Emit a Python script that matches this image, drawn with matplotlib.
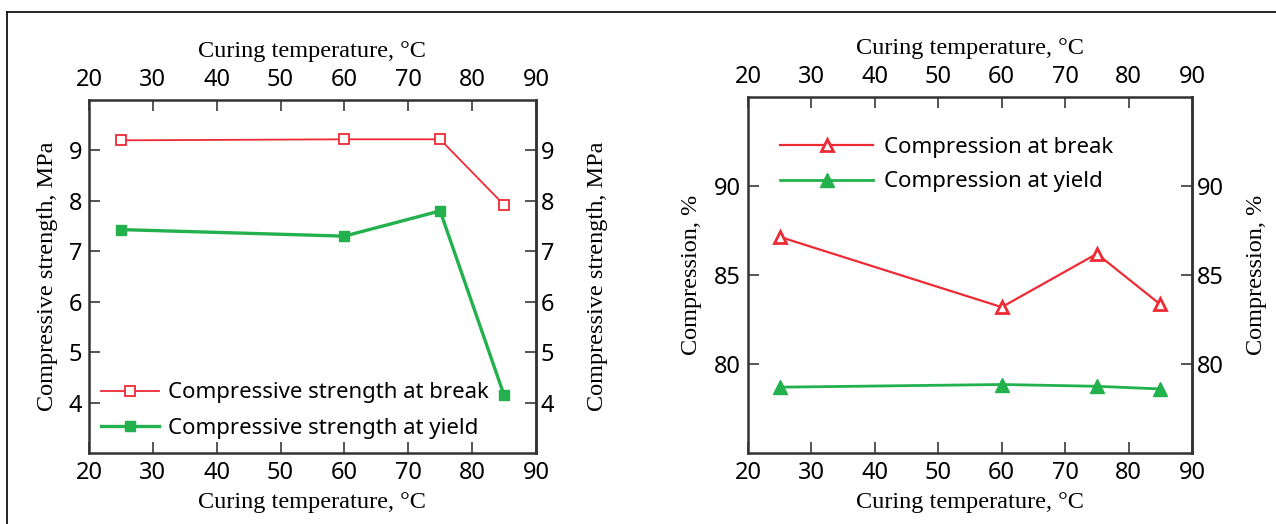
import matplotlib
matplotlib.use("Agg")
import matplotlib.pyplot as plt
from matplotlib.lines import Line2D

# data
temps = [25, 60, 75, 85]
strength_break = [9.2, 9.22, 9.22, 7.92]
strength_yield = [7.43, 7.3, 7.8, 4.15]
compression_break = [87.15, 83.2, 86.2, 83.35]
compression_yield = [78.7, 78.85, 78.75, 78.6]
x_ticks = [20, 30, 40, 50, 60, 70, 80, 90]

RED = "#ee2a35"
GREEN = "#22b14c"
SPINE = "#333333"
TICK_FONT = "Noto Sans"
LABEL_FONT = "Liberation Serif"

plt.rcParams["font.family"] = TICK_FONT

fig = plt.figure(figsize=(12.76, 5.24), dpi=100)


def style_axes(ax, ylim, yticks, ylabel, left_pad, right_pad):
    ax.set_xlim(20, 90)
    ax.set_ylim(*ylim)
    ax.set_xticks(x_ticks)
    ax.set_yticks(yticks)
    for s in ax.spines.values():
        s.set_color(SPINE)
        s.set_linewidth(1.8)
    ax.tick_params(axis="x", direction="in", length=8, width=1.4, color="#555555",
                   top=True, labeltop=False, labelsize=17, pad=6)
    ax.tick_params(axis="y", direction="in", length=8, width=1.4, color="#555555",
                   labelsize=17, pad=5)
    ax.set_xlabel("Curing temperature, °C", family=LABEL_FONT, fontsize=17.5, labelpad=5)
    ax.set_ylabel(ylabel, family=LABEL_FONT, fontsize=17.5, labelpad=left_pad)

    top = ax.secondary_xaxis("top")
    top.set_xticks(x_ticks)
    top.tick_params(direction="in", length=0, labelsize=17, pad=6)
    top.set_xlabel("Curing temperature, °C", family=LABEL_FONT, fontsize=17.5, labelpad=8)
    top.spines["top"].set_visible(False)

    right = ax.secondary_yaxis("right")
    right.set_yticks(yticks)
    right.tick_params(direction="in", length=8, width=1.4, color="#555555",
                      labelsize=17, pad=3.5)
    right.set_ylabel(ylabel, family=LABEL_FONT, fontsize=17.5, labelpad=right_pad)
    right.spines["right"].set_color(SPINE)
    right.spines["right"].set_linewidth(1.8)


# left panel: compressive strength
ax1 = fig.add_axes([0.0697, 0.1355, 0.3503, 0.6737])
ax1.plot(temps, strength_break, color=RED, lw=1.3, marker="s", ms=7,
         mfc="white", mec=RED, mew=1.3, label="Compressive strength at break")
ax1.plot(temps, strength_yield, color=GREEN, lw=2.4, marker="s", ms=7,
         mfc=GREEN, mec=GREEN, label="Compressive strength at yield")
style_axes(ax1, (3, 10), [4, 5, 6, 7, 8, 9], "Compressive strength, MPa", 7.5, 23.5)
ax1.legend(loc="upper left", bbox_to_anchor=(0.027, 0.2), frameon=False,
           fontsize=16, handlelength=2.6, handletextpad=0.4, labelspacing=0.65,
           borderpad=0, borderaxespad=0)

# right panel: compression
ax2 = fig.add_axes([0.5862, 0.1355, 0.348, 0.679])
ax2.plot(temps, compression_break, color=RED, lw=1.6, marker="^", ms=9,
         mfc="white", mec=RED, mew=2, label="Compression at break")
ax2.plot(temps, compression_yield, color=GREEN, lw=2, marker="^", ms=9.5,
         mfc=GREEN, mec=GREEN, label="Compression at yield")
style_axes(ax2, (75, 95), [80, 85, 90], "Compression, %", 9, 16)
ax2.legend(loc="upper left", bbox_to_anchor=(0.072, 0.889), frameon=False,
           fontsize=16, handlelength=4.2, handletextpad=0.5, labelspacing=0.62,
           borderpad=0, borderaxespad=0)

# outer frame of the figure panel
fig.add_artist(Line2D([7 / 1276, 1.0], [1 - 12 / 524, 1 - 12 / 524],
                      transform=fig.transFigure, color="black", lw=1.2))
fig.add_artist(Line2D([7 / 1276, 7 / 1276], [0, 1 - 12 / 524],
                      transform=fig.transFigure, color="black", lw=1.2))

fig.savefig("out.png", dpi=100)
